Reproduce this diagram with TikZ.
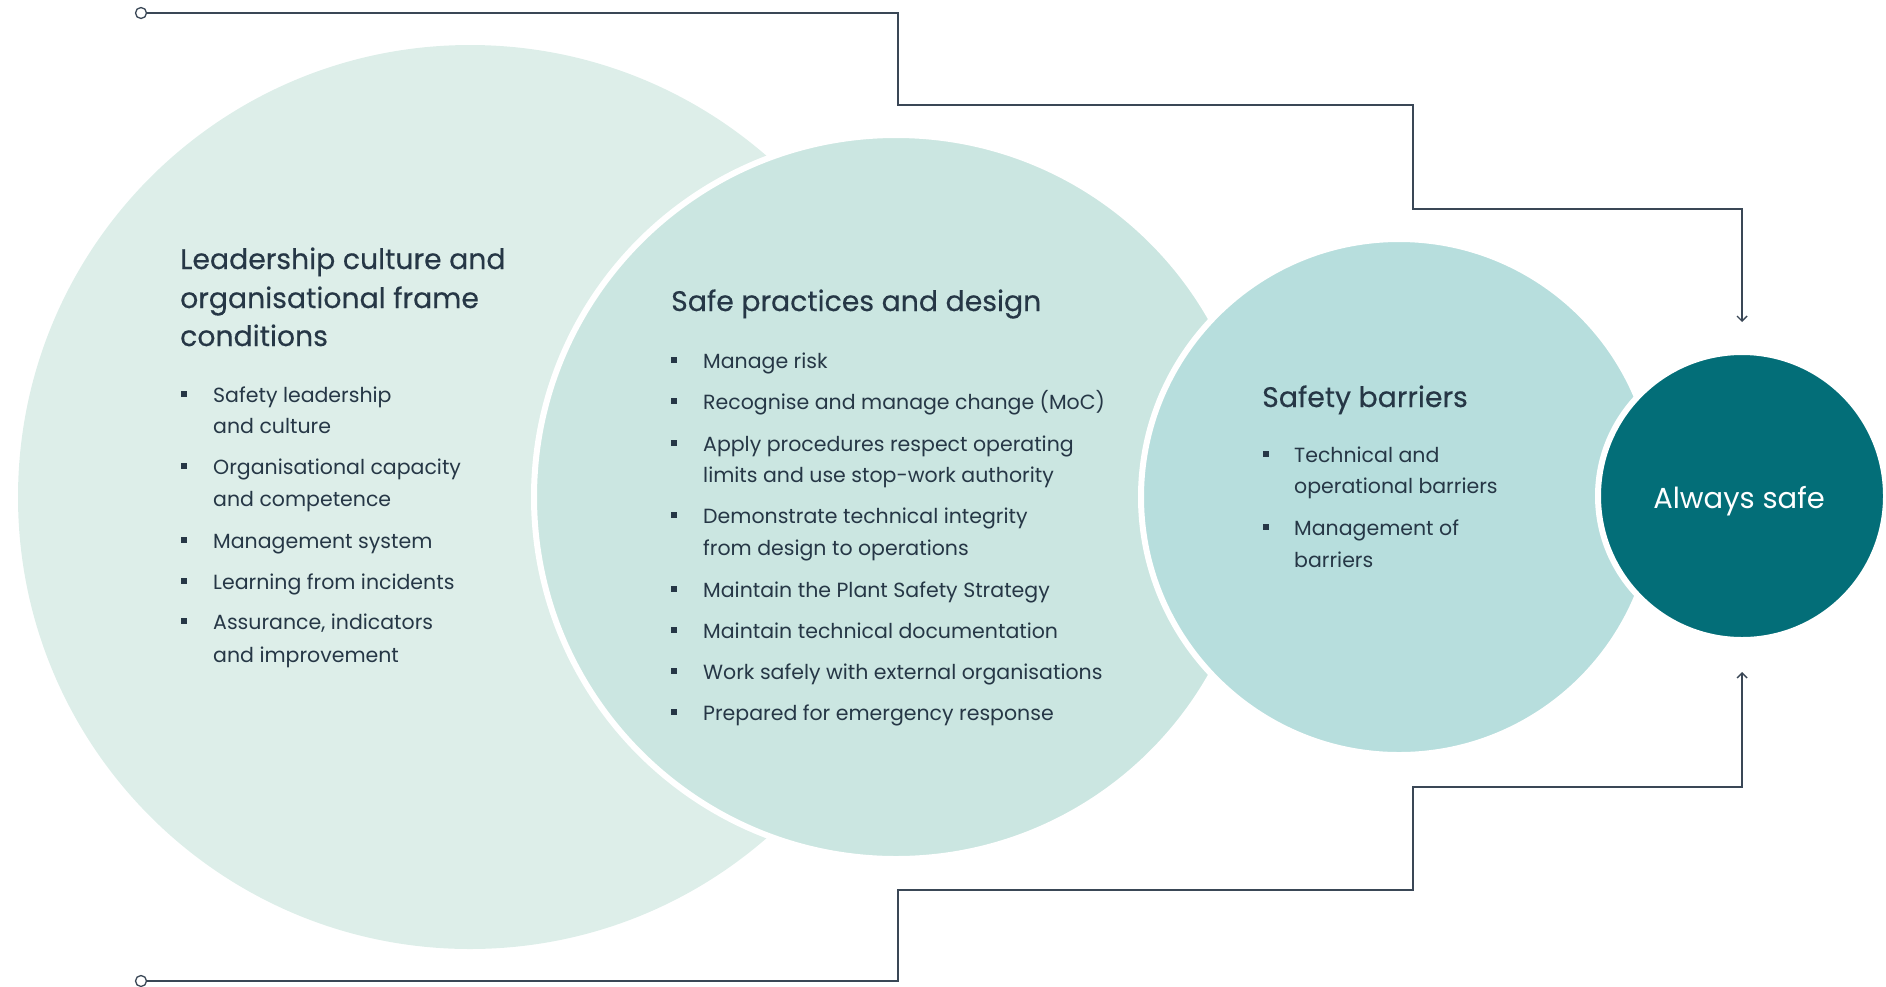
\documentclass[tikz,border=0pt]{standalone}
\usepackage{fontspec}
\setmainfont{Poppins}
\newfontfamily\headfam[FakeBold=0.35]{Poppins}
\usetikzlibrary{arrows.meta}
\definecolor{cA}{HTML}{DDEEE9}
\definecolor{cB}{HTML}{CBE6E1}
\definecolor{cC}{HTML}{B7DEDD}
\definecolor{cD}{HTML}{036E78}
\definecolor{ink}{HTML}{263746}
\definecolor{wire}{HTML}{3A4756}
\newcommand{\headfont}{\headfam\fontsize{28.3}{32}\selectfont}
\newcommand{\bodyfont}{\fontsize{20.5}{25}\selectfont}
\tikzset{
  disc/.style={circle, inner sep=0pt},
  head/.style={anchor=base west, font=\headfont, text=ink, inner sep=0pt},
  itm/.style={anchor=base west, font=\bodyfont, text=ink, inner sep=0pt},
  bul/.style={rectangle, fill=ink, minimum size=5.5pt, inner sep=0pt},
  marker/.style={circle, draw=wire, fill=white, line width=1.3pt, minimum size=11pt, inner sep=0pt},
  conn/.style={draw=wire, line width=1.4pt, -{Straight Barb[length=5pt,width=10pt]}},
}
\begin{document}
\begin{tikzpicture}[x=1pt,y=-1pt]
\useasboundingbox (0,0) rectangle (1886,986);
% circles
\node[disc, fill=cA, minimum size=904pt] (lead) at (470,497) {};
\node[disc, fill=cB, draw=white, line width=6pt, minimum size=724pt] (prac) at (896,497) {};
\node[disc, fill=cC, draw=white, line width=6pt, minimum size=516pt] (barr) at (1399,497) {};
\node[disc, fill=cD, draw=white, line width=6pt, minimum size=288pt] (safe) at (1742,496) {};
\node[font=\fontsize{29}{34}\selectfont, text=white, inner sep=0pt] (safet) at (1739,501) {Always safe};

% circle 1 text
\node[head] (h1a) at (180,269) {Leadership culture and};
\node[head] (h1b) at (180,308) {organisational frame};
\node[head] (h1c) at (180,346) {conditions};
\foreach \n/\y/\t in {a1/402/Safety leadership, a2/433/and culture, a3/474/Organisational capacity, a4/506/and competence, a5/548/Management system, a6/589/Learning from incidents, a7/629/{Assurance, indicators}, a8/662/and improvement}
  \node[itm] (\n) at (213,\y) {\t};
\foreach \n/\y in {b1/402, b3/474, b5/548, b6/589, b7/629}
  \node[bul] (\n) at (184,\y-8) {};

% circle 2 text
\node[head] (h2) at (671,311) {Safe practices and design};
\foreach \n/\y/\t in {p1/368/Manage risk, p2/409/Recognise and manage change (MoC), p3/451/Apply procedures respect operating, p4/482/limits and use stop-work authority, p5/523/Demonstrate technical integrity, p6/555/from design to operations, p7/597/Maintain the Plant Safety Strategy, p8/638/Maintain technical documentation, p9/679/Work safely with external organisations, p10/720/Prepared for emergency response}
  \node[itm] (\n) at (703,\y) {\t};
\foreach \n/\y in {q1/368, q2/409, q3/451, q5/523, q7/597, q8/638, q9/679, q10/720}
  \node[bul] (\n) at (674,\y-8) {};

% circle 3 text
\node[head] (h3) at (1262,407) {Safety barriers};
\foreach \n/\y/\t in {s1/462/Technical and, s2/493/operational barriers, s3/535/Management of, s4/567/barriers}
  \node[itm] (\n) at (1294,\y) {\t};
\foreach \n/\y in {t1/462, t3/535}
  \node[bul] (\n) at (1266,\y-8) {};

% connectors
\node[marker] (start1) at (141,13) {};
\node[marker] (start2) at (141,981) {};
\coordinate (end1) at (1742,322);
\coordinate (end2) at (1742,672);
\draw[conn] (start1) -| (898,105) -| (1413,209) -| (end1);
\draw[conn] (start2) -| (898,890) -| (1413,787) -| (end2);
\end{tikzpicture}
\end{document}
